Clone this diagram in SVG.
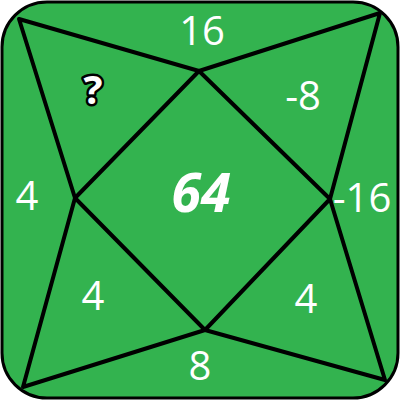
<svg xmlns="http://www.w3.org/2000/svg" width="400" height="400" viewBox="0 0 400 400">
<style>
.ln{stroke:#000;stroke-width:4;fill:none;stroke-linejoin:round;stroke-linecap:round}
.t{font-family:"Open Sans","Noto Sans",sans-serif;fill:#fff;font-size:40px;text-anchor:middle}
</style>
<rect x="2" y="2" width="396" height="396" rx="45" fill="#33b34f" stroke="#000" stroke-width="3"/>
<g id="connectors">
<polygon class="ln" points="199,71 330,199 205,330 75,198"/>
<polyline class="ln" points="19,19 199,71 380,13 330,199 385,380 205,330 23,387 75,198 19,19"/>
</g>
<g id="labels">
<text class="t" x="202" y="45">16</text>
<text class="t" x="303" y="110">-8</text>
<text class="t" x="27" y="210">4</text>
<text class="t" x="362" y="212">-16</text>
<text class="t" x="93" y="310">4</text>
<text class="t" x="306" y="313">4</text>
<text class="t" x="200" y="380">8</text>
<text class="t" x="201" y="212" style="font-size:54px;font-weight:bold;font-style:italic">64</text>
<text x="93" y="104" style="font-family:'Open Sans','Noto Sans',sans-serif;font-size:40px;font-weight:bold;text-anchor:middle;fill:#fff;stroke:#000;stroke-width:5;paint-order:stroke;stroke-linejoin:round">?</text>
</g>
</svg>
